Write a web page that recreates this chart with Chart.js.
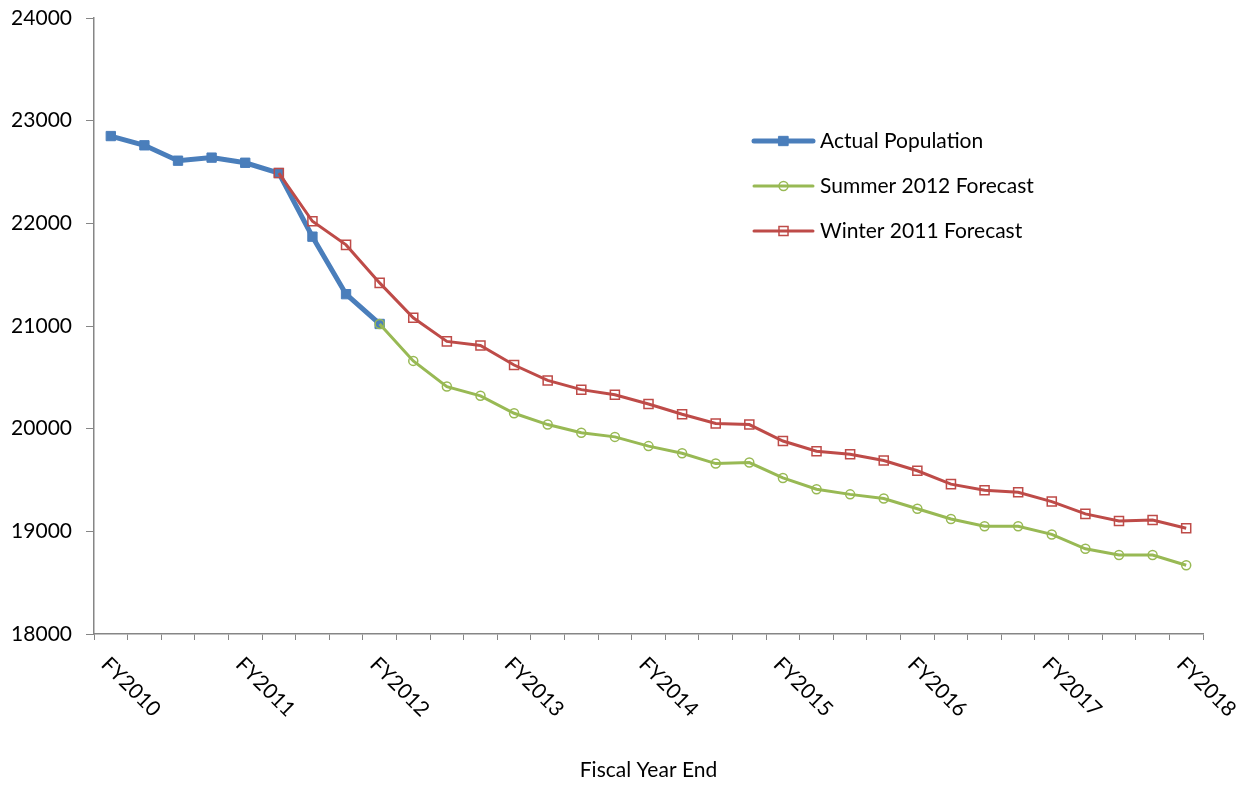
<!DOCTYPE html>
<html><head><meta charset="utf-8">
<script src="https://cdn.jsdelivr.net/npm/chart.js@4"></script>
<style>html,body{margin:0;padding:0;background:#fff;} #wrap{width:1248px;height:785px;position:relative;}</style>
</head><body><div id="wrap"><canvas id="c" width="1248" height="785"></canvas></div>
<script>
const categories = ['FY2010','','','','FY2011','','','','FY2012','','','','FY2013','','','','FY2014','','','','FY2015','','','','FY2016','','','','FY2017','','','','FY2018'];
const actualPopulation = [22850,22760,22610,22640,22590,22490,21870,21310,21020,null,null,null,null,null,null,null,null,null,null,null,null,null,null,null,null,null,null,null,null,null,null,null,null];
const summer2012Forecast = [null,null,null,null,null,null,null,null,21020,20660,20410,20320,20150,20040,19960,19920,19830,19760,19660,19670,19520,19410,19360,19320,19220,19120,19050,19050,18970,18830,18770,18770,18670];
const winter2011Forecast = [null,null,null,null,null,22490,22020,21790,21420,21080,20850,20810,20620,20470,20380,20330,20240,20140,20050,20040,19880,19780,19750,19690,19590,19460,19400,19380,19290,19170,19100,19110,19030];
const yTicks = [18000,19000,20000,21000,22000,23000,24000];
const seriesNames = ['Actual Population','Summer 2012 Forecast','Winter 2011 Forecast'];

const FONT = 'Lato, "Open Sans", sans-serif';
const AXIS = '#868686';

const xLabelPlugin = {
  id: 'xLabels',
  afterDraw(chart) {
    const ctx = chart.ctx, xs = chart.scales.x;
    ctx.save();
    ctx.font = '21px ' + FONT;
    ctx.fillStyle = '#000';
    ctx.textAlign = 'left';
    ctx.textBaseline = 'middle';
    chart.data.labels.forEach((lab, i) => {
      if (!lab) return;
      const x = xs.getPixelForValue(i);
      ctx.save();
      ctx.translate(x - 6, xs.top + 27);
      ctx.rotate(Math.PI / 4);
      ctx.fillText(lab, 0, 0);
      ctx.restore();
    });
    ctx.restore();
  }
};

const legendPlugin = {
  id: 'insideLegend',
  afterDraw(chart) {
    const ctx = chart.ctx, a = chart.chartArea;
    const order = [0, 1, 2];
    ctx.save();
    ctx.font = '21px ' + FONT;
    ctx.textAlign = 'left';
    ctx.textBaseline = 'middle';
    order.forEach((di, row) => {
      const ds = chart.data.datasets[di];
      const y = a.top + 123 + row * 45;
      const x0 = a.left + 660, x1 = a.left + 719, xm = (x0 + x1) / 2;
      ctx.strokeStyle = ds.borderColor;
      ctx.lineWidth = ds.borderWidth;
      ctx.lineCap = 'round';
      ctx.beginPath(); ctx.moveTo(x0, y); ctx.lineTo(x1, y); ctx.stroke();
      const r = ds.pointRadius;
      ctx.lineWidth = ds.pointBorderWidth;
      ctx.strokeStyle = ds.pointBorderColor;
      ctx.fillStyle = ds.pointBackgroundColor;
      ctx.beginPath();
      if (ds.pointStyle === 'circle') {
        ctx.arc(xm, y, r, 0, Math.PI * 2);
      } else {
        const s = r / Math.SQRT2;
        ctx.rect(xm - s, y - s, 2 * s, 2 * s);
      }
      ctx.fill(); ctx.stroke();
      ctx.fillStyle = '#000';
      ctx.fillText(ds.label, x1 + 7, y);
    });
    ctx.restore();
  }
};

new Chart(document.getElementById('c'), {
  type: 'line',
  data: {
    labels: categories,
    datasets: [
      {
        label: seriesNames[0], data: actualPopulation, order: 3,
        borderColor: '#4A7EBB', borderWidth: 5, pointStyle: 'rect', pointRadius: 6.6,
        pointBackgroundColor: '#4A7EBB', pointBorderColor: '#4A7EBB', pointBorderWidth: 1,
        tension: 0, fill: false
      },
      {
        label: seriesNames[1], data: summer2012Forecast, order: 2,
        borderColor: '#98B954', borderWidth: 3, pointStyle: 'circle', pointRadius: 4.5,
        pointBackgroundColor: 'rgba(0,0,0,0)', pointBorderColor: '#98B954', pointBorderWidth: 1.5,
        tension: 0, fill: false
      },
      {
        label: seriesNames[2], data: winter2011Forecast, order: 1,
        borderColor: '#BE4B48', borderWidth: 3, pointStyle: 'rect', pointRadius: 6.4,
        pointBackgroundColor: 'rgba(0,0,0,0)', pointBorderColor: '#BE4B48', pointBorderWidth: 1.5,
        tension: 0, fill: false
      }
    ]
  },
  options: {
    responsive: false,
    animation: false,
    devicePixelRatio: 1,
    layout: { padding: { left: 0, right: 45, top: 18, bottom: 0 } },
    plugins: { legend: { display: false }, tooltip: { enabled: false } },
    scales: {
      x: {
        type: 'category',
        offset: true,
        grid: { display: true, drawOnChartArea: false, drawTicks: true, tickLength: 6, offset: true, color: AXIS },
        border: { display: true, color: AXIS, width: 1.5 },
        ticks: { display: false },
        title: { display: true, text: 'Fiscal Year End', color: '#000', font: { family: FONT, size: 21 }, padding: { top: 0, bottom: 2 } },
        afterFit(scale) { scale.height = 151; scale.paddingLeft = 0; scale.paddingRight = 0; }
      },
      y: {
        min: 18000, max: 24000,
        afterBuildTicks(scale) { scale.ticks = yTicks.map(v => ({ value: v })); },
        grid: { display: true, drawOnChartArea: false, drawTicks: true, tickLength: 8, color: AXIS },
        border: { display: true, color: AXIS, width: 1.5 },
        ticks: { color: '#000', font: { family: FONT, size: 21 }, padding: 14, callback: (v) => String(v) },
        afterFit(scale) { scale.width = 94; scale.paddingTop = 0; scale.paddingBottom = 0; }
      }
    }
  },
  plugins: [xLabelPlugin, legendPlugin]
});
</script>
</body></html>
